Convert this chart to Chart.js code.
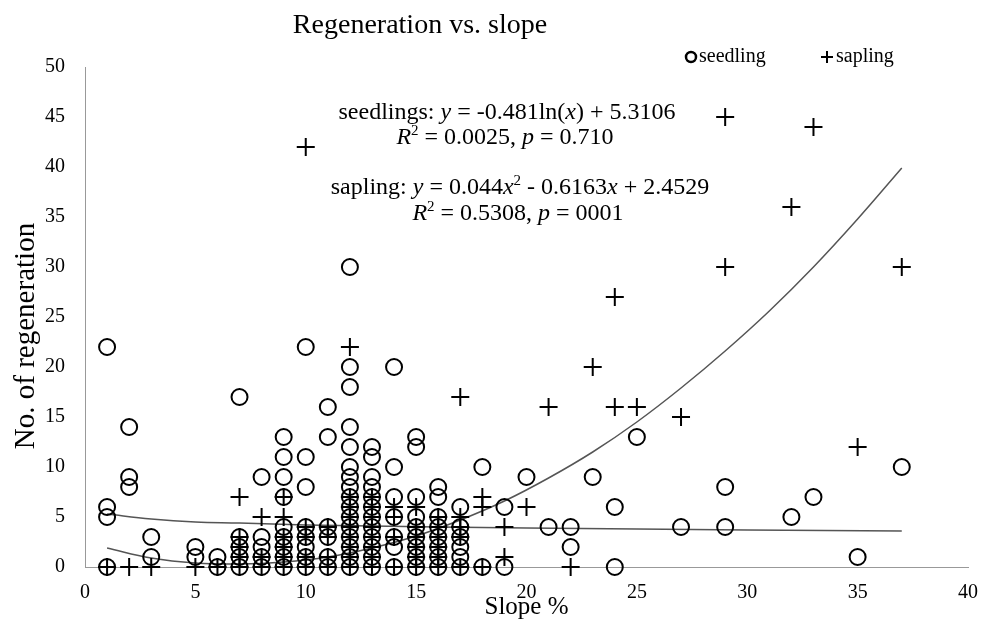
<!doctype html>
<html>

<head>
	<title>Regeneration vs. slope</title>
	<script src="https://cdn.jsdelivr.net/npm/chart.js@4.4.0/dist/chart.umd.min.js"></script>
	<style>
		body {
			margin: 0;
			background: #fff;
		}
	</style>
</head>

<body>
	<canvas id="canvas" width="985" height="640"></canvas>
	<script>
		var SERIF = '"Liberation Serif", "Times New Roman", serif';

		// seedlings (circles): slope % and count
		var seedlingSlope = [1, 1, 1, 1, 2, 2, 2, 3, 3, 5, 5, 6, 6,
			7, 7, 7, 7, 7, 8, 8, 8, 8, 8,
			9, 9, 9, 9, 9, 9, 9, 9, 9,
			10, 10, 10, 10, 10, 10, 10, 10,
			11, 11, 11, 11, 11, 11,
			12, 12, 12, 12, 12, 12, 12, 12, 12, 12, 12, 12, 12, 12, 12, 12,
			13, 13, 13, 13, 13, 13, 13, 13, 13, 13, 13, 13,
			14, 14, 14, 14, 14, 14, 14,
			15, 15, 15, 15, 15, 15, 15, 15, 15,
			16, 16, 16, 16, 16, 16, 16, 16,
			17, 17, 17, 17, 17, 17,
			18, 18, 19, 19, 20, 21, 22, 22, 23, 24, 24, 25, 27, 29, 29, 32, 33, 35, 37];
		var seedlingCount = [22, 6, 5, 0, 14, 9, 8, 3, 1, 2, 1, 1, 0,
			17, 3, 2, 1, 0, 9, 3, 2, 1, 0,
			13, 11, 9, 7, 4, 3, 2, 1, 0,
			22, 11, 8, 4, 3, 2, 1, 0,
			16, 13, 4, 3, 1, 0,
			30, 20, 18, 14, 12, 10, 9, 8, 7, 6, 5, 4, 3, 2, 1, 0,
			12, 11, 9, 8, 7, 6, 5, 4, 3, 2, 1, 0,
			20, 10, 7, 5, 3, 2, 0,
			13, 12, 7, 5, 4, 3, 2, 1, 0,
			8, 7, 5, 4, 3, 2, 1, 0,
			6, 4, 3, 2, 1, 0,
			10, 0, 6, 0, 9, 4, 4, 2, 9, 6, 0, 13, 4, 8, 4, 5, 7, 1, 10];

		// saplings (crosses): slope % and count
		var saplingSlope = [1, 2, 3, 5, 6,
			7, 7, 7, 7, 7, 8, 8, 8,
			9, 9, 9, 9, 9, 9,
			10, 10, 10, 10, 10, 11, 11, 11, 11,
			12, 12, 12, 12, 12, 12, 12, 12, 12,
			13, 13, 13, 13, 13, 13, 13, 13,
			14, 14, 14, 14,
			15, 15, 15, 15, 15, 15,
			16, 16, 16, 16, 16, 16,
			17, 17, 17, 17, 17,
			18, 18, 18, 19, 19, 20, 21, 22, 23, 24, 24, 25, 27, 29, 29, 32, 33, 35, 37];
		var saplingCount = [0, 0, 0, 0, 0,
			7, 3, 2, 1, 0, 5, 1, 0,
			7, 5, 3, 2, 1, 0,
			42, 4, 3, 1, 0, 4, 3, 1, 0,
			22, 7, 6, 5, 4, 3, 2, 1, 0,
			7, 6, 5, 4, 3, 2, 1, 0,
			6, 5, 3, 0,
			6, 4, 3, 2, 1, 0,
			5, 4, 3, 2, 1, 0,
			17, 5, 4, 3, 0,
			7, 6, 0, 4, 1, 6, 16, 0, 20, 27, 16, 16, 15, 45, 30, 36, 44, 12, 30];

		// fitted curves
		var seedTrendX = [1, 3, 5, 7, 10, 13, 16, 20, 25, 30, 37];
		var seedTrendY = [5.3, 4.8, 4.5, 4.4, 4.2, 4.1, 4.0, 3.9, 3.8, 3.7, 3.6];
		var sapTrendX = [1, 3, 5, 7, 9, 11, 13, 15, 17, 19, 21, 23, 25, 27, 29, 31, 33, 35, 37];
		var sapTrendY = [1.9, 0.9, 0.4, 0.3, 0.5, 1.0, 1.9, 3.1, 4.7, 6.6, 8.9, 11.5, 14.5, 17.9, 21.6, 25.6, 30.0, 34.8, 39.9];

		var xTicks = [0, 5, 10, 15, 20, 25, 30, 35, 40];
		var yTicks = [0, 5, 10, 15, 20, 25, 30, 35, 40, 45, 50];

		function pairs(xs, ys) {
			return xs.map(function(x, i) {
				return {x: x, y: ys[i]};
			});
		}

		// text lines: [text, style] with style '' | 'i' (italic) | 's' (superscript)
		var notes = [
			{cx: 507, cy: 113, parts: [['seedlings: ', ''], ['y', 'i'], [' = -0.481ln(', ''], ['x', 'i'], [') + 5.3106', '']]},
			{cx: 505, cy: 138, parts: [['R', 'i'], ['2', 's'], [' = 0.0025, ', ''], ['p', 'i'], [' = 0.710', '']]},
			{cx: 520, cy: 188, parts: [['sapling: ', ''], ['y', 'i'], [' = 0.044', ''], ['x', 'i'], ['2', 's'], [' - 0.6163', ''], ['x', 'i'], [' + 2.4529', '']]},
			{cx: 518, cy: 214, parts: [['R', 'i'], ['2', 's'], [' = 0.5308, ', ''], ['p', 'i'], [' = 0001', '']]}
		];

		function partFont(style) {
			if (style === 'i') return 'italic 24px ' + SERIF;
			if (style === 's') return '15px ' + SERIF;
			return '24px ' + SERIF;
		}

		var textPlugin = {
			id: 'textPlugin',
			afterDraw: function(chart) {
				var ctx = chart.ctx;
				ctx.save();
				ctx.fillStyle = '#000';
				ctx.textBaseline = 'middle';

				ctx.font = '28px ' + SERIF;
				ctx.textAlign = 'center';
				ctx.fillText('Regeneration vs. slope', 420, 26);

				// y axis title
				ctx.save();
				ctx.translate(26, 336);
				ctx.rotate(-Math.PI / 2);
				ctx.font = '29px ' + SERIF;
				ctx.fillText('No. of regeneration', 0, 0);
				ctx.restore();

				// legend
				ctx.strokeStyle = '#000';
				ctx.lineWidth = 2.5;
				ctx.beginPath();
				ctx.arc(691, 57, 5, 0, Math.PI * 2);
				ctx.stroke();
				ctx.lineWidth = 2;
				ctx.beginPath();
				ctx.moveTo(821, 57);
				ctx.lineTo(833, 57);
				ctx.moveTo(827, 51);
				ctx.lineTo(827, 63);
				ctx.stroke();
				ctx.textAlign = 'left';
				ctx.font = '20px ' + SERIF;
				ctx.fillText('seedling', 699, 57);
				ctx.fillText('sapling', 836, 57);

				// equations
				notes.forEach(function(line) {
					var total = 0;
					line.parts.forEach(function(p) {
						ctx.font = partFont(p[1]);
						total += ctx.measureText(p[0]).width;
					});
					var x = line.cx - total / 2;
					line.parts.forEach(function(p) {
						ctx.font = partFont(p[1]);
						ctx.fillText(p[0], x, p[1] === 's' ? line.cy - 7 : line.cy);
						x += ctx.measureText(p[0]).width;
					});
				});
				ctx.restore();
			}
		};

		var config = {
			type: 'scatter',
			data: {
				datasets: [{
					label: 'seedling',
					data: pairs(seedlingSlope, seedlingCount),
					pointStyle: 'circle',
					pointRadius: 8,
					borderWidth: 2,
					borderColor: '#000',
					backgroundColor: 'rgba(0,0,0,0)',
					clip: false
				}, {
					label: 'sapling',
					data: pairs(saplingSlope, saplingCount),
					pointStyle: 'cross',
					pointRadius: 9,
					borderWidth: 2,
					borderColor: '#000',
					backgroundColor: 'rgba(0,0,0,0)',
					clip: false
				}, {
					label: 'seedling trend',
					data: pairs(seedTrendX, seedTrendY),
					showLine: true,
					pointRadius: 0,
					borderColor: '#555',
					borderWidth: 1.5,
					tension: 0.4
				}, {
					label: 'sapling trend',
					data: pairs(sapTrendX, sapTrendY),
					showLine: true,
					pointRadius: 0,
					borderColor: '#555',
					borderWidth: 1.5,
					tension: 0.4
				}]
			},
			options: {
				responsive: false,
				animation: false,
				layout: {
					padding: {top: 67, right: 17, left: 0, bottom: 0}
				},
				plugins: {
					legend: {display: false},
					title: {display: false},
					tooltip: {enabled: false}
				},
				scales: {
					x: {
						type: 'linear',
						min: 0,
						max: 40,
						afterBuildTicks: function(s) {
							s.ticks = xTicks.map(function(v) { return {value: v}; });
						},
						afterFit: function(s) { s.height = 73; },
						grid: {display: false},
						border: {display: true, color: '#999', width: 1},
						ticks: {
							color: '#000',
							padding: 6,
							font: {family: SERIF, size: 20}
						},
						title: {
							display: true,
							text: 'Slope %',
							color: '#000',
							font: {family: SERIF, size: 25},
							padding: {top: 0, bottom: 18}
						}
					},
					y: {
						type: 'linear',
						min: 0,
						max: 50,
						afterBuildTicks: function(s) {
							s.ticks = yTicks.map(function(v) { return {value: v}; });
						},
						afterFit: function(s) { s.width = 85; },
						grid: {display: false},
						border: {display: true, color: '#999', width: 1},
						ticks: {
							color: '#000',
							padding: 12,
							font: {family: SERIF, size: 20}
						}
					}
				}
			},
			plugins: [textPlugin]
		};

		window.onload = function() {
			window.myChart = new Chart('canvas', config);
		};
	</script>
</body>

</html>
